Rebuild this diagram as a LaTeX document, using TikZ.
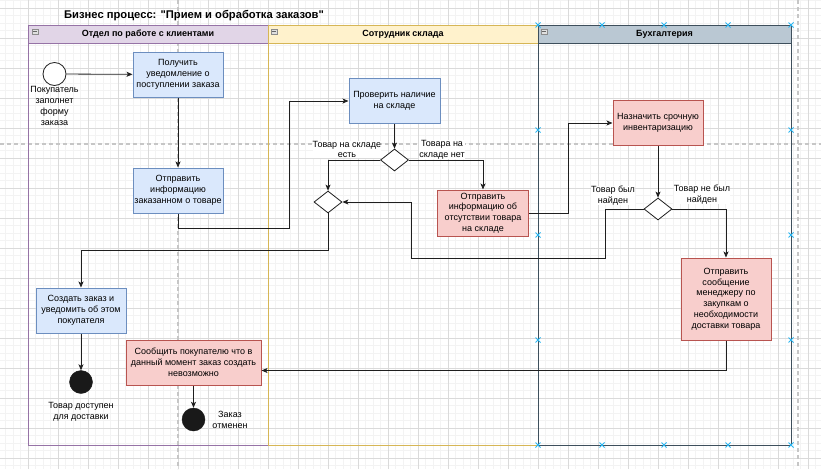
\documentclass[tikz,border=0pt]{standalone}
\usepackage{fontspec}
\setmainfont{Liberation Sans}[Ligatures=TeXOff]
\usetikzlibrary{shapes.geometric,arrows.meta}

\definecolor{gridminor}{HTML}{F3F3F3}
\definecolor{gridmajor}{HTML}{DADADA}
\definecolor{pagebreak}{HTML}{C6C6C6}
\definecolor{bluefill}{HTML}{DAE8FC}
\definecolor{bluedraw}{HTML}{6C8EBF}
\definecolor{redfill}{HTML}{F8CECC}
\definecolor{reddraw}{HTML}{B85450}
\definecolor{purplefill}{HTML}{E1D5E7}
\definecolor{purpledraw}{HTML}{9673A6}
\definecolor{yellowfill}{HTML}{FFF2CC}
\definecolor{yellowdraw}{HTML}{D6B656}
\definecolor{slatefill}{HTML}{BAC8D3}
\definecolor{slatedraw}{HTML}{3E4F5C}
\definecolor{handle}{HTML}{29B6F2}
\definecolor{edgecol}{HTML}{1F1F1F}

\tikzset{
  txt/.style={font=\fontsize{9}{10.8}\selectfont, align=center, inner sep=0pt},
  task/.style={txt, rectangle, draw, line width=1pt, minimum width=90pt, minimum height=45pt},
  bluetask/.style={task, fill=bluefill, draw=bluedraw},
  redtask/.style={task, fill=redfill, draw=reddraw},
  gate/.style={diamond, draw=edgecol, fill=white, line width=0.8pt, minimum width=28pt, minimum height=22pt, inner sep=0pt},
  startev/.style={circle, draw=edgecol, fill=white, line width=0.8pt, minimum size=23pt, inner sep=0pt},
  endev/.style={circle, draw=black!90, fill=black!90, minimum size=23pt, inner sep=0pt},
  elabel/.style={txt, fill=white},
  flow/.style={draw=edgecol, line width=0.8pt, -{Stealth[length=6pt,width=5pt,inset=1.5pt]}},
  lanehead/.style={font=\bfseries\fontsize{9}{10.8}\selectfont, draw, line width=0.9pt, minimum height=18pt, inner sep=0pt},
  gminor/.style={gridminor, line width=0.7pt},
  gmajor/.style={gridmajor, line width=0.7pt},
  pbreak/.style={pagebreak, line width=1.5pt, dash pattern=on 4pt off 3pt},
  xmark/.style={handle, line width=1pt},
}

\begin{document}
\begin{tikzpicture}[x=1pt, y=-1pt]
\useasboundingbox (0,0) rectangle (821,469);
\fill[white] (0,0) rectangle (821,469);

% background grid
\foreach \i in {0,...,110} \draw[gminor] ({-1.667+7.5*\i},0) -- ++(0,469);
\foreach \i in {0,...,62} \draw[gminor] (0,{0.833+7.5*\i}) -- ++(821,0);
\foreach \i in {0,...,27} \draw[gmajor] ({-1.667+30*\i},0) -- ++(0,469);
\foreach \i in {0,...,15} \draw[gmajor] (0,{8.333+30*\i}) -- ++(821,0);

% page breaks
\draw[pbreak] (178,0) -- (178,469);
\draw[pbreak] (798,0) -- (798,469);
\draw[pbreak] (0,144) -- (821,144);

% title
\node[font=\bfseries\fontsize{11.2}{13}\selectfont, inner sep=0pt] (title) at (194,15.5)
  {Бизнес процесс: "Прием и обработка заказов"};

% swimlanes
\draw[purpledraw, line width=0.9pt] (28,43) -- (28,445) -- (268,445);
\draw[yellowdraw, line width=0.9pt] (268,43) -- (268,445) -- (538,445);
\draw[slatedraw, line width=0.9pt] (538,43) -- (538,445) -- (791,445) -- (791,43);
\node[lanehead, fill=purplefill, draw=purpledraw, minimum width=240pt] (lane1) at (148,34) {Отдел по работе с клиентами};
\node[lanehead, fill=yellowfill, draw=yellowdraw, minimum width=270pt] (lane2) at (403,34) {Сотрудник склада};
\node[lanehead, fill=slatefill, draw=slatedraw, minimum width=253pt] (lane3) at (664.5,34) {Бухгалтерия};

% collapse buttons in lane headers
\foreach \x in {32,271,541} {
  \filldraw[fill=black!12, draw=black!45, line width=0.5pt] (\x,29) rectangle ++(6,5);
  \draw[black!60, line width=0.8pt] (\x+1.3,31.5) -- ++(3.4,0);
}

% events
\node[startev] (start) at (54.5,74) {};
\node[txt] (startlbl) at (54.5,106) {Покупатель\\заполнет\\форму\\заказа};
\node[endev] (e1) at (81,382) {};
\node[txt] (e1lbl) at (81,411.5) {Товар доступен\\для доставки};
\node[endev] (e2) at (193.5,419.5) {};
\node[txt] (e2lbl) at (230,420) {Заказ\\отменен};

% tasks
\node[bluetask] (b1) at (178,74.5) {Получить\\уведомление о\\поступлении заказа};
\node[bluetask] (b2) at (178,190.5) {Отправить\\информацию\\заказанном о товаре};
\node[bluetask, minimum width=91pt] (b3) at (394.5,101) {Проверить наличие\\на складе};
\node[redtask, minimum width=91pt, minimum height=46pt] (b4) at (483,213) {Отправить\\информацию об\\отсутствии товара\\на складе};
\node[redtask] (b5) at (658,123) {Назначить срочную\\инвентаризацию};
\node[redtask, minimum height=82pt] (b6) at (726,299) {Отправить\\сообщение\\менеджеру по\\закупкам о\\необходимости\\доставки товара};
\node[redtask, minimum width=135pt] (b7) at (193.5,362.5) {Сообщить покупателю что в\\данный момент заказ создать\\невозможно};
\node[bluetask] (b8) at (81,310.5) {Создать заказ и\\уведомить об этом\\покупателя};

% gateways
\node[gate] (g1) at (394.5,160) {};
\node[gate] (g2) at (328,202) {};
\node[gate] (g3) at (658,209) {};

% sequence flows
\draw[flow] (start) -- (b1);
\draw[flow] (b1) -- (b2);
\draw[flow] (b2.south) -- ++(0,15) -| ([xshift=-59pt]b3.west) -- (b3.west);
\draw[flow] (b3) -- (g1);
\draw[flow] (g1.west) -| (g2.north);
\draw[flow] (g1.east) -| (b4.north);
\draw[flow] (b4.east) -- ++(39,0) |- (b5.west);
\draw[flow] (b5) -- (g3);
\draw[flow] (g3.west) -| ++(-38,49) -| ([xshift=69pt]g2.east) -- (g2.east);
\draw[flow] (g3.east) -| (b6.north);
\draw[flow] (b6.south) |- ([yshift=-8pt]b7.east);
\draw[flow] (b7) -- (e2);
\draw[flow] (g2.south) -- ++(0,37) -| (b8.north);
\draw[flow] (b8) -- (e1);

% gateway labels
\node[elabel] (l1) at (347,149.5) {Товар на складе\\есть};
\node[elabel] (l2) at (442,149.5) {Товара на\\складе нет};
\node[elabel] (l3) at (613,195.5) {Товар был\\найден};
\node[elabel] (l4) at (702,194.5) {Товар не был\\найден};

% selection handles around the accounting lane
\foreach \x in {538,602,664,728,791} {
  \foreach \y in {25,445} {
    \draw[xmark] (\x-2.5,\y-2.5) -- (\x+2.5,\y+2.5) (\x-2.5,\y+2.5) -- (\x+2.5,\y-2.5);
  }
}
\foreach \x in {538,791} {
  \foreach \y in {130,235,340} {
    \draw[xmark] (\x-2.5,\y-2.5) -- (\x+2.5,\y+2.5) (\x-2.5,\y+2.5) -- (\x+2.5,\y-2.5);
  }
}
\end{tikzpicture}
\end{document}
